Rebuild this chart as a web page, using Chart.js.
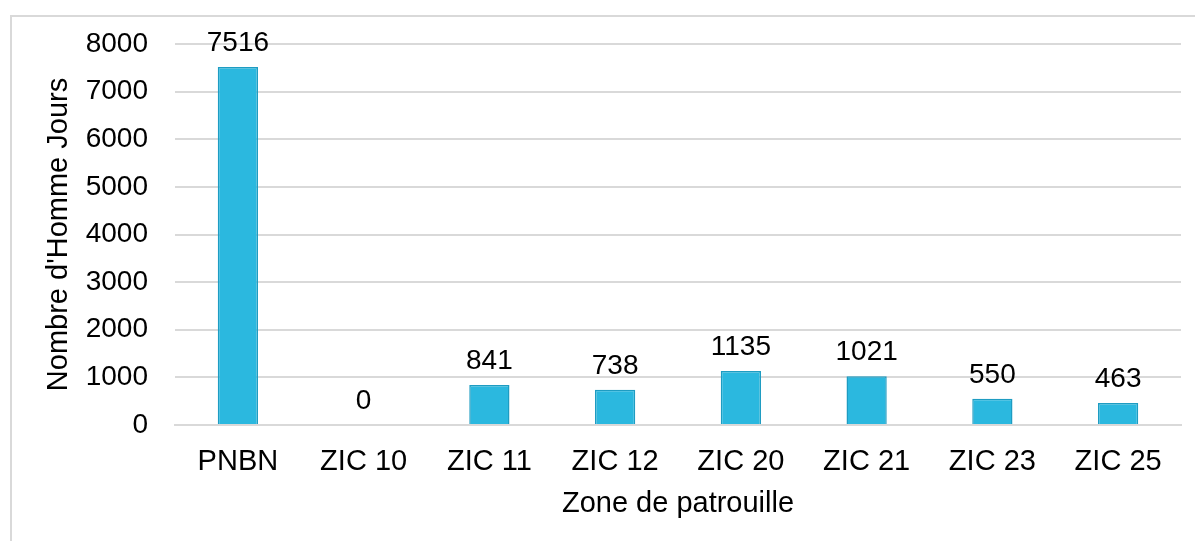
<!DOCTYPE html>
<html>
<head>
<meta charset="utf-8">
<script src="https://cdn.jsdelivr.net/npm/chart.js@4"></script>
<style>
  html, body { margin: 0; padding: 0; background: #fff; overflow: hidden; }
  #frame { position: absolute; left: 10px; top: 15px; width: 1300px; height: 700px; border: 2px solid #d9d9d9; box-sizing: border-box; }
  #wrap { position: absolute; left: 0; top: 0; width: 1195px; height: 541px; }
</style>
</head>
<body>
<div id="frame"></div>
<div id="wrap"><canvas id="myChart" width="1195" height="541"></canvas></div>
<script>
var categories = ["PNBN", "ZIC 10", "ZIC 11", "ZIC 12", "ZIC 20", "ZIC 21", "ZIC 23", "ZIC 25"];
var hommeJours = [7516, 0, 841, 738, 1135, 1021, 550, 463];
var yTicks = [0, 1000, 2000, 3000, 4000, 5000, 6000, 7000, 8000];

var fontFamily = '"Liberation Sans", Arial, sans-serif';

// draws the value above each bar
var valueLabels = {
    id: 'valueLabels',
    afterDatasetsDraw: function (chart) {
        var ctx = chart.ctx;
        var meta = chart.getDatasetMeta(0);
        ctx.save();
        ctx.font = '28px ' + fontFamily;
        ctx.fillStyle = '#000';
        ctx.textAlign = 'center';
        ctx.textBaseline = 'alphabetic';
        meta.data.forEach(function (bar, i) {
            ctx.fillText(String(chart.data.datasets[0].data[i]), bar.x, bar.y - 16);
        });
        ctx.restore();
    }
};

var ctx = document.getElementById('myChart').getContext('2d');
var chart = new Chart(ctx, {
    type: 'bar',
    data: {
        labels: categories,
        datasets: [{
            data: hommeJours,
            backgroundColor: '#2bb8df',
            borderColor: '#1e9cc2',
            borderWidth: 1.5,
            categoryPercentage: 1,
            barPercentage: 0.32
        }]
    },
    plugins: [valueLabels],
    options: {
        responsive: false,
        animation: false,
        layout: { padding: { left: 38, right: 14, top: 44, bottom: 16 } },
        plugins: { legend: { display: false }, tooltip: { enabled: false } },
        scales: {
            x: {
                afterFit: function (axis) { axis.height = 100; },
                grid: { display: false },
                border: { color: '#d9d9d9', width: 2 },
                ticks: { color: '#000', padding: 12, font: { family: fontFamily, size: 29 } },
                title: { display: true, text: 'Zone de patrouille', color: '#000', padding: { top: 7, bottom: 4 }, font: { family: fontFamily, size: 29 } }
            },
            y: {
                min: 0,
                max: 8000,
                afterFit: function (axis) { axis.width = 137; },
                afterBuildTicks: function (axis) {
                    axis.ticks = yTicks.map(function (v) { return { value: v }; });
                },
                grid: { color: '#d9d9d9', lineWidth: 2, drawTicks: false },
                border: { display: false },
                ticks: {
                    color: '#000', padding: 27, font: { family: fontFamily, size: 28 },
                    callback: function (v) { return String(v); }
                },
                title: { display: true, text: "Nombre d'Homme Jours", color: '#000', padding: { top: 4, bottom: 7 }, font: { family: fontFamily, size: 29 } }
            }
        }
    }
});
</script>
</body>
</html>
